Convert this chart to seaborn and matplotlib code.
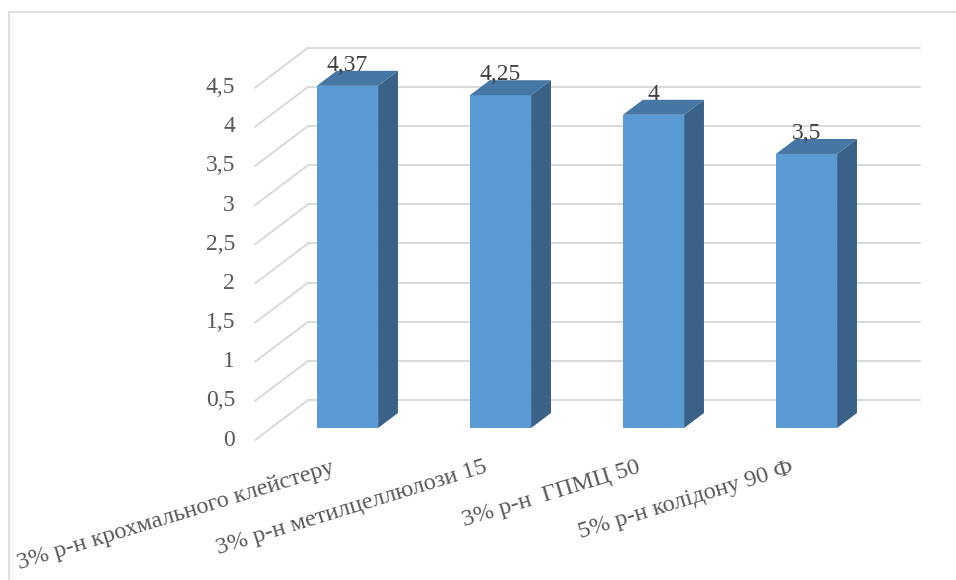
import numpy as np
import pandas as pd
import matplotlib
matplotlib.use("Agg")
import matplotlib.pyplot as plt
import seaborn as sns
from matplotlib.patches import Polygon, Rectangle
from matplotlib.lines import Line2D
from matplotlib.transforms import IdentityTransform, offset_copy

# ---- data ----
categories = [
    "3% р-н крохмального клейстеру",
    "3% р-н метилцеллюлози 15",
    "3% р-н  ГПМЦ 50",
    "5% р-н колідону 90 Ф",
]
values = [4.37, 4.25, 4.0, 3.5]
value_labels = ["4,37", "4,25", "4", "3,5"]
y_ticks = [0, 0.5, 1, 1.5, 2, 2.5, 3, 3.5, 4, 4.5]
y_tick_labels = ["0", "0,5", "1", "1,5", "2", "2,5", "3", "3,5", "4", "4,5"]

# ---- style ----
sns.set_style("white")
plt.rcParams["font.family"] = "serif"
plt.rcParams["font.serif"] = ["Liberation Serif", "Times New Roman", "DejaVu Serif"]

FRONT = "#5B9BD5"
TOP = "#4676A3"
SIDE = "#3A6288"
GRID = "#D9D9D9"
FS_TICK = 17
FS_VAL = 17
FS_CAT = 17.5

W, H, DPI = 956, 580, 100
fig = plt.figure(figsize=(W / DPI, H / DPI), dpi=DPI)
fig.patch.set_facecolor("white")

# axes = plane of the bars' front faces
x_left_px, x_right_px = 271, 883
zero_px, px_per_unit = 428, 78.3
y_top = 4.5
ax = fig.add_axes([x_left_px / W, (H - zero_px) / H,
                   (x_right_px - x_left_px) / W, y_top * px_per_unit / H])

df = pd.DataFrame({"category": categories, "value": values})
bar_width = 0.4
sns.barplot(data=df, x="category", y="value", order=categories, color=FRONT,
            saturation=1, width=bar_width, linewidth=0, ax=ax, zorder=3)
ax.set_xlim(-0.5, 3.5)
ax.set_ylim(0, y_top)
ax.set_xlabel("")
ax.set_ylabel("")
ax.set_xticks([])
ax.set_yticks([])
for s in ax.spines.values():
    s.set_visible(False)
ax.patch.set_alpha(0)

# oblique depth projection: depth d (px) shifts right and up
SLOPE = 53 / 40
D_FRONT, D_BAR, D_BACK = -12, 15, 28


def proj(x, y, d):
    p = ax.transData.transform((x, y))
    return p + d * np.array([SLOPE, 1.0])


ident = IdentityTransform()

# walls: horizontal lines on back wall, diagonal lines on side wall
for t, lbl in zip(y_ticks, y_tick_labels):
    a = proj(-0.5, t, D_BACK)
    b = proj(3.5, t, D_BACK)
    c = proj(-0.5, t, D_FRONT)
    for p, q in ((a, b), (c, a)):
        ln = Line2D([p[0], q[0]], [p[1], q[1]], color=GRID, lw=1.4,
                    transform=ident, clip_on=False, zorder=0.5)
        ax.add_artist(ln)
    ax.text(c[0] - 20, c[1], lbl, transform=ident,
            ha="right", va="center", fontsize=FS_TICK, color="#595959")

# side and top faces of the bars
for i, v in enumerate(values):
    lft, rgt = i - bar_width / 2, i + bar_width / 2
    side = [proj(rgt, 0, 0), proj(rgt, v, 0), proj(rgt, v, D_BAR), proj(rgt, 0, D_BAR)]
    top = [proj(lft, v, 0), proj(rgt, v, 0), proj(rgt, v, D_BAR), proj(lft, v, D_BAR)]
    ax.add_artist(Polygon(side, closed=True, facecolor=SIDE, edgecolor="none",
                          transform=ident, clip_on=False, zorder=3))
    ax.add_artist(Polygon(top, closed=True, facecolor=TOP, edgecolor="none",
                          transform=ident, clip_on=False, zorder=3))

# value labels above bars
lab_tr = offset_copy(ax.transData, fig=fig, x=0, y=D_BAR, units="dots")
for i, (v, s) in enumerate(zip(values, value_labels)):
    ax.text(i, v, s, transform=lab_tr, ha="center", va="baseline",
            fontsize=FS_VAL, color="#404040", zorder=5, clip_on=False)

# category labels
cat_tr = offset_copy(ax.transData, fig=fig, x=-17, y=-29, units="dots")
for i, c in enumerate(categories):
    ax.text(i, 0, c, transform=cat_tr, ha="right", va="top", rotation=17,
            rotation_mode="anchor", fontsize=FS_CAT, color="#595959", clip_on=False)

# chart area border
fig.add_artist(Rectangle((9 / W, -0.1), 1.2, 1 - 12 / H + 0.1,
                         transform=fig.transFigure, fill=False,
                         edgecolor=GRID, lw=1.2))

fig.savefig("out.png", dpi=DPI, facecolor="white")
